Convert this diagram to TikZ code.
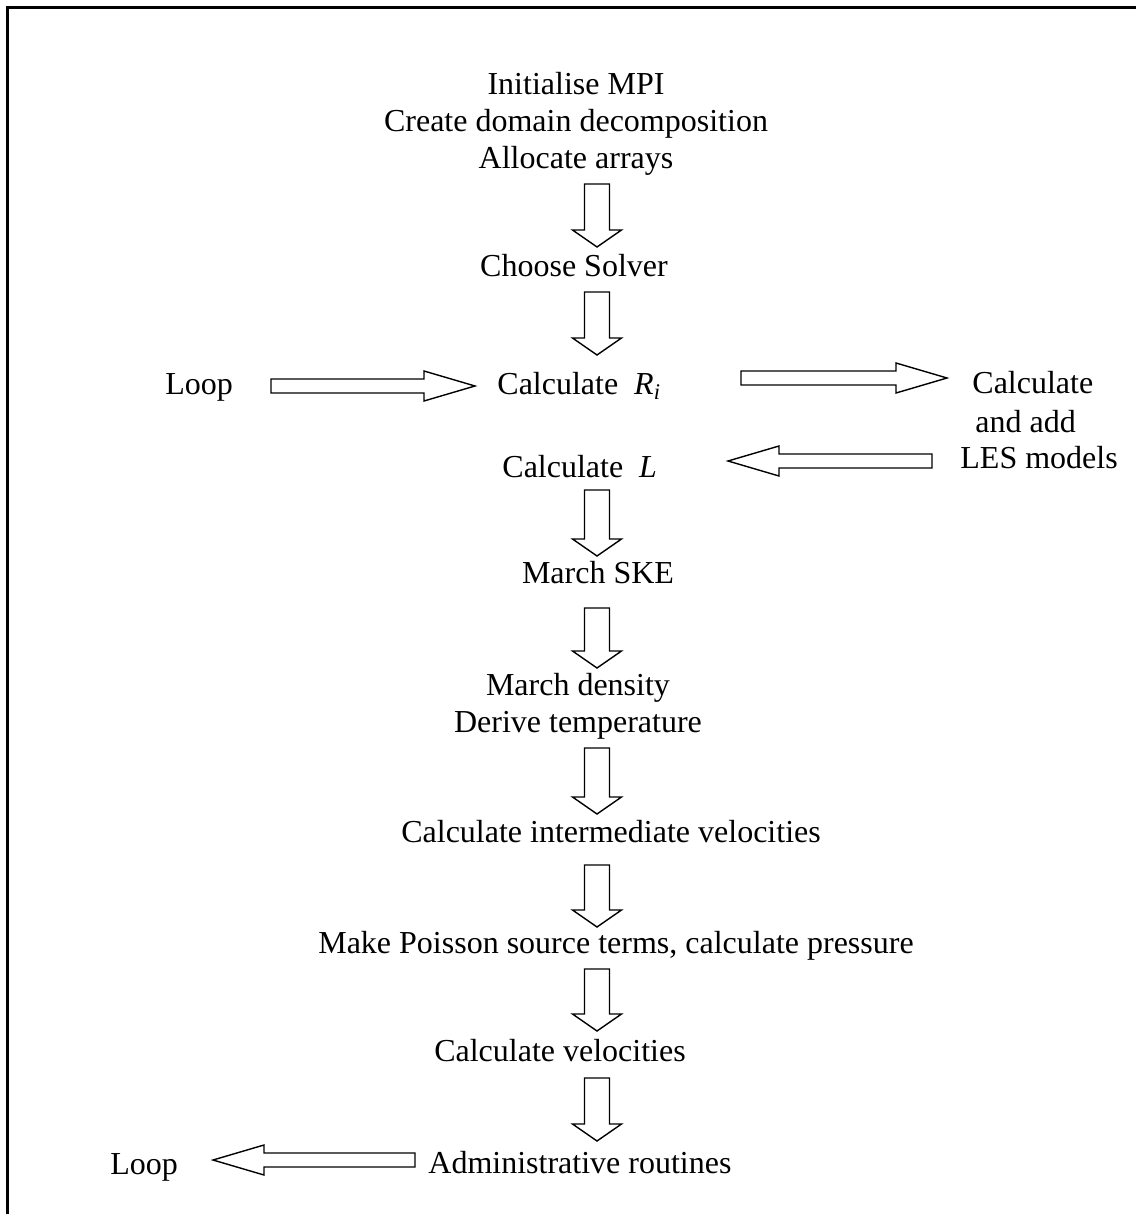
\documentclass[tikz,border=0pt]{standalone}
\usepackage{fontspec}
\setmainfont{Liberation Serif}
\usetikzlibrary{calc}

\tikzset{
  lbl/.style={inner sep=0pt, anchor=base, font=\fontsize{16}{18.5}\selectfont},
  fat/.style n args={3}{draw, line width=0.7pt, to path={
      ($(\tikztostart)!#1!90:(\tikztotarget)$)
      -- ($(\tikztotarget)!#3!(\tikztostart)!#1!90:(\tikztotarget)$)
      -- ($(\tikztotarget)!#3!(\tikztostart)!#2!90:(\tikztotarget)$)
      -- (\tikztotarget)
      -- ($(\tikztotarget)!#3!(\tikztostart)!#2!-90:(\tikztotarget)$)
      -- ($(\tikztotarget)!#3!(\tikztostart)!#1!-90:(\tikztotarget)$)
      -- ($(\tikztostart)!#1!-90:(\tikztotarget)$) -- cycle}},
  downarr/.style={fat={6.25pt}{12.25pt}{8.5pt}},
  sidearr/.style={fat={3.5pt}{7.5pt}{25.5pt}}
}

\begin{document}
\begin{tikzpicture}[x=0.5pt,y=-0.5pt]
  \path[use as bounding box, fill=white] (0,0) rectangle (1135,1214);
  \draw[line width=1.5pt] (1140,7.5) -- (7.5,7.5) -- (7.5,1220);

  \node[lbl, anchor=north, align=center] (init) at (576,72)
    {Initialise MPI\\Create domain decomposition\\Allocate arrays};
  \node[lbl] (solver) at (574,277) {Choose Solver};
  \node[lbl, anchor=base west] (loopin) at (165,394) {Loop};
  \node[lbl, anchor=base west] (calcr) at (497,394) {Calculate\enspace\textit{R\textsubscript{i}}};
  \node[lbl, anchor=base west] (calcl) at (502,477) {Calculate\enspace\textit{L}};
  \node[lbl, anchor=base west] (les1) at (972,393) {Calculate};
  \node[lbl, anchor=base west] (les2) at (975,432) {and add};
  \node[lbl, anchor=base west] (les3) at (960,468) {LES models};
  \node[lbl] (ske) at (598,583) {March SKE};
  \node[lbl, anchor=north, align=center] (dens) at (578,673)
    {March density\\Derive temperature};
  \node[lbl] (inter) at (611,842) {Calculate intermediate velocities};
  \node[lbl] (poisson) at (616,953) {Make Poisson source terms, calculate pressure};
  \node[lbl] (vel) at (560,1061) {Calculate velocities};
  \node[lbl, anchor=base west] (admin) at (428,1173) {Administrative routines};
  \node[lbl, anchor=base west] (loopout) at (110,1174) {Loop};

  \foreach \n/\ya/\yb in {1/184/247, 2/292/355, 3/490/556, 4/608/668,
                          5/748/814, 6/865/927, 7/969/1031, 8/1078/1141}{
    \coordinate (d\n s) at (597,\ya);
    \coordinate (d\n e) at (597,\yb);
    \draw[downarr] (d\n s) to (d\n e);
  }

  \coordinate (h1s) at (271,386);  \coordinate (h1e) at (475,386);
  \coordinate (h2s) at (741,378);  \coordinate (h2e) at (947,378);
  \coordinate (h3s) at (932,461);  \coordinate (h3e) at (728,461);
  \coordinate (h4s) at (415,1160); \coordinate (h4e) at (213,1160);
  \draw[sidearr] (h1s) to (h1e);
  \draw[sidearr] (h2s) to (h2e);
  \draw[sidearr] (h3s) to (h3e);
  \draw[sidearr] (h4s) to (h4e);
\end{tikzpicture}
\end{document}
